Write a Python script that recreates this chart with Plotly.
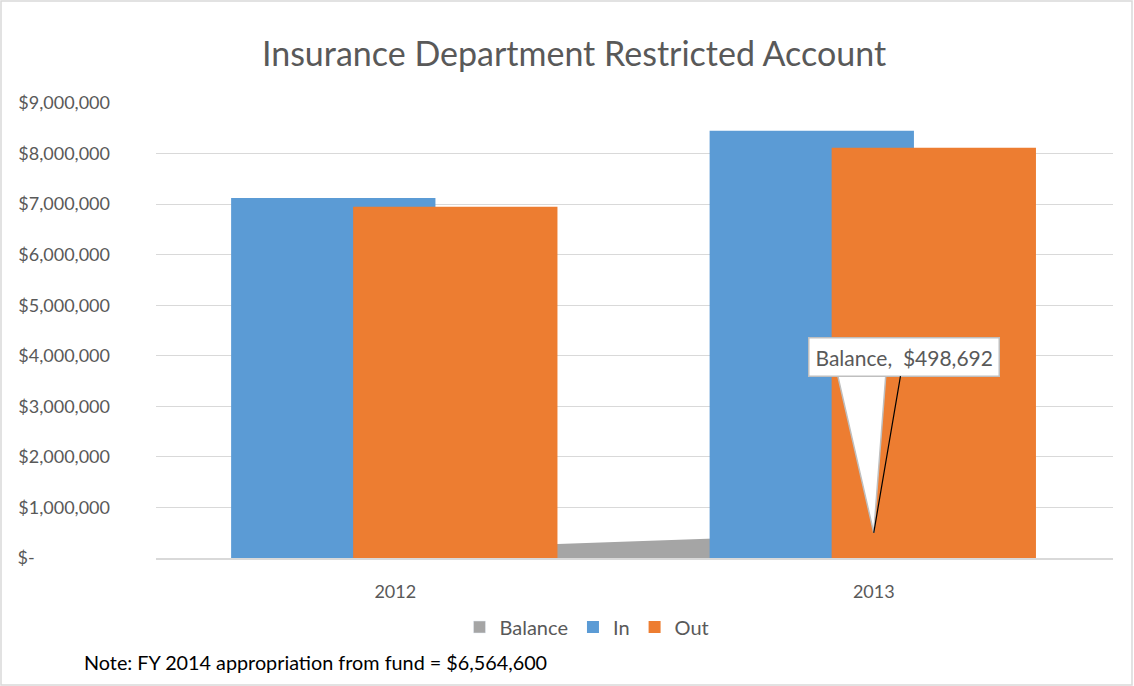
import plotly.graph_objects as go

years = ["2012", "2013"]
money_in = [7120000, 8450000]
money_out = [6950000, 8115000]
balance = [165000, 498692]
y_ticks = [0, 1000000, 2000000, 3000000, 4000000, 5000000, 6000000, 7000000, 8000000, 9000000]

FONT = "Lato, 'Open Sans', sans-serif"
GREY_TXT = "#595959"

W, H = 1134, 686
L, R, T, B = 156, 21, 103, 128
pw, ph = W - L - R, H - T - B

xs = list(range(len(years)))


def money_label(v):
    # accounting style: "$-" for zero, left aligned with the others
    if v == 0:
        return "$-" + "\u2007" * 7 + "\u2009"
    return f"${v:,.0f}"


fig = go.Figure()

# balance area sits on the base axes so the bars (overlay axes) cover it
fig.add_trace(go.Scatter(
    x=xs, y=balance, name="Balance",
    mode="lines", fill="tozeroy",
    line=dict(color="#a5a5a5", width=0),
    fillcolor="#a5a5a5",
    hoverinfo="skip", showlegend=False,
))
# legend entry for the area (square swatch like the bars)
fig.add_trace(go.Bar(
    x=[None], y=[None], name="Balance",
    marker=dict(color="#a5a5a5"),
    xaxis="x2", yaxis="y2",
))
fig.add_trace(go.Bar(
    x=xs, y=money_in, name="In",
    width=0.427, offset=-0.343,
    marker=dict(color="#5b9bd5", line=dict(width=0)),
    xaxis="x2", yaxis="y2",
))
fig.add_trace(go.Bar(
    x=xs, y=money_out, name="Out",
    width=0.427, offset=-0.088,
    marker=dict(color="#ed7d31", line=dict(width=0)),
    xaxis="x2", yaxis="y2",
))

yax = dict(
    range=[0, 9000000],
    tickvals=y_ticks,
    ticktext=[money_label(v) for v in y_ticks],
    showgrid=True, gridcolor="#d9d9d9", gridwidth=1,
    zeroline=False, showline=False, ticks="",
    tickfont=dict(family=FONT, size=18, color=GREY_TXT),
    ticklabelstandoff=45,
)
xax = dict(
    range=[-0.5, len(years) - 0.5],
    tickvals=xs, ticktext=years,
    showgrid=False, zeroline=False,
    showline=True, linecolor="#d9d9d9", linewidth=1.5,
    ticks="",
    tickfont=dict(family=FONT, size=18, color=GREY_TXT),
    ticklabelstandoff=17,
)

# callout wedge anchored to the 2013 balance point
fig.add_shape(
    type="path", xref="x2", yref="y2",
    xsizemode="pixel", ysizemode="pixel",
    xanchor=xs[1], yanchor=balance[1],
    path="M 0 0 L -36 157 L 12 157 Z",
    fillcolor="white", line=dict(color="#bfbfbf", width=1.5),
    layer="above",
)
fig.add_annotation(
    x=xs[1], y=balance[1], xref="x2", yref="y2",
    ax=30, ay=-176,
    text=f"Balance,\u00a0 ${balance[1]:,.0f}",
    showarrow=True, arrowhead=0, arrowwidth=1.2, arrowcolor="black",
    font=dict(family=FONT, size=21, color=GREY_TXT),
    bgcolor="white", bordercolor="#bfbfbf", borderwidth=1.5, borderpad=6,
    standoff=0,
)
fig.add_annotation(
    text="Note: FY 2014 appropriation from fund = $6,564,600",
    xref="paper", yref="paper",
    x=(82 - L) / pw, y=-(662 - T - ph) / ph,
    xanchor="left", yanchor="middle", showarrow=False,
    font=dict(family=FONT, size=19.8, color="black"),
)
# chart border
fig.add_shape(
    type="rect", xref="paper", yref="paper",
    x0=-(L - 1) / pw, x1=1 + (R - 2) / pw,
    y0=-(B - 1) / ph, y1=1 + (T - 1) / ph,
    line=dict(color="#d9d9d9", width=1.5), fillcolor="rgba(0,0,0,0)",
    layer="below",
)

fig.update_layout(
    width=W, height=H,
    margin=dict(l=L, r=R, t=T, b=B),
    paper_bgcolor="white", plot_bgcolor="white",
    title=dict(
        text="Insurance Department Restricted Account",
        x=574 / W, xanchor="center", y=1 - 54 / H, yanchor="middle",
        font=dict(family=FONT, size=34, color=GREY_TXT),
    ),
    barmode="overlay",
    xaxis=xax,
    yaxis=yax,
    xaxis2=dict(xax, overlaying="x", showline=False, showticklabels=False),
    yaxis2=dict(yax, overlaying="y", showgrid=False, showticklabels=False),
    legend=dict(
        orientation="h", xanchor="center", x=(587 - L) / pw,
        yanchor="middle", y=-(627 - T - ph) / ph,
        font=dict(family=FONT, size=20, color=GREY_TXT),
        itemwidth=30,
    ),
    showlegend=True,
)

fig.write_html(
    "out.html",
    config={"displayModeBar": False},
    post_script="document.body.style.margin='0';",
)
